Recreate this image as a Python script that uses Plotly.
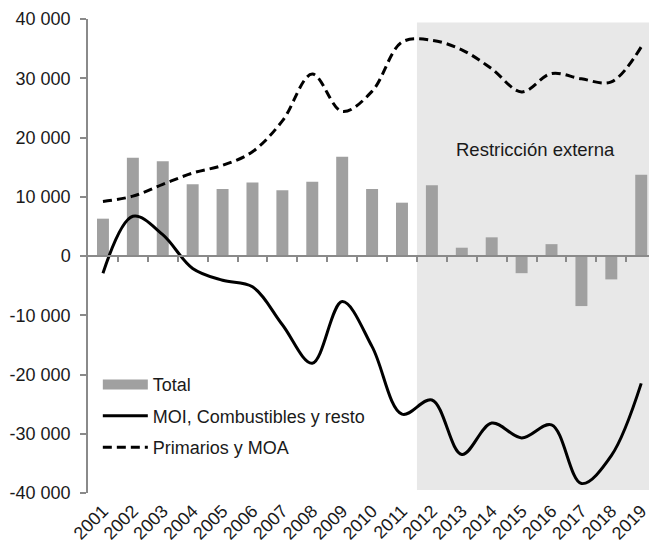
import plotly.graph_objects as go

years = [str(y) for y in range(2001, 2020)]
total = [6300, 16600, 16000, 12100, 11300, 12400, 11100, 12550, 16750, 11300,
         9000, 11950, 1400, 3150, -2900, 2000, -8450, -3950, 13700]
moi = [-2900, 6700, 3600, -2100, -4100, -5200, -11600, -18100, -7700, -15300,
       -26700, -24300, -33500, -28200, -30700, -28500, -38400, -33700, -21500]
primarios = [9200, 10100, 12100, 14000, 15300, 17600, 22800, 30700, 24400, 27800,
             36100, 36400, 34800, 31600, 27700, 30800, 29900, 29400, 35300]

ytickvals = [-40000, -30000, -20000, -10000, 0, 10000, 20000, 30000, 40000]
yticktext = ["-40 000", "-30 000", "-20 000", "-10 000", "0", "10 000", "20 000", "30 000", "40 000"]

FONT = "Arial, Liberation Sans, sans-serif"
TXT = "#1a1a1a"
BAR = "#a0a0a0"
AX = "#8a8a8a"

fig = go.Figure()
fig.add_trace(go.Bar(x=years, y=total, name="Total", marker=dict(color=BAR, line=dict(width=0)),
                     width=0.4, showlegend=False))
fig.add_trace(go.Scatter(x=[None], y=[None], mode="lines", name="Total", legendgroup="a",
                         line=dict(color=BAR, width=10), showlegend=True))
fig.add_trace(go.Scatter(x=years, y=moi, mode="lines", name="MOI, Combustibles y resto", legendgroup="b",
                         line=dict(color="#000000", width=3, shape="spline", smoothing=1)))
fig.add_trace(go.Scatter(x=years, y=primarios, mode="lines", name="Primarios y MOA", legendgroup="c",
                         line=dict(color="#000000", width=3, shape="spline", smoothing=1, dash="9px,5px")))
# invisible trace to hold the zero-line axis
fig.add_trace(go.Scatter(x=[None], y=[None], xaxis="x2", yaxis="y", showlegend=False, hoverinfo="skip"))

n = len(years)
fig.update_layout(
    width=649, height=543,
    margin=dict(l=88, r=0, t=19, b=50),
    paper_bgcolor="white", plot_bgcolor="white",
    font=dict(family=FONT, size=18, color=TXT),
    showlegend=True,
    legend=dict(x=0.0175, y=0.2675, xanchor="left", yanchor="top", bgcolor="rgba(0,0,0,0)",
                font=dict(size=18, color=TXT), itemwidth=45, traceorder="grouped",
                tracegroupgap=5),
    xaxis=dict(type="category", range=[-0.5, 18.26], showline=False, ticks="",
               tickangle=-45, tickfont=dict(size=18, color=TXT), showgrid=False, zeroline=False,
               automargin=False, ticklabelstandoff=3),
    xaxis2=dict(overlaying="x", anchor="free", position=0.5, side="bottom", type="linear",
                range=[-0.5, 18.26], showline=True, linecolor=AX, linewidth=1.5,
                ticks="outside", ticklen=5, tickcolor=AX, tickwidth=1.5,
                tickvals=[i + 0.5 for i in range(n - 1)], showticklabels=False,
                showgrid=False, zeroline=False, automargin=False),
    yaxis=dict(range=[-40000, 40000], tickvals=ytickvals, ticktext=yticktext,
               showline=True, linecolor=AX, linewidth=1.5, ticks="outside", ticklen=6,
               tickcolor=AX, tickwidth=1.5, showgrid=False, zeroline=False,
               tickfont=dict(size=18, color=TXT), ticklabelstandoff=6, automargin=False),
    shapes=[dict(type="rect", xref="x", yref="y", x0=10.5, x1=18.6, y0=-39500, y1=39400,
                 fillcolor="#e8e8e8", line=dict(width=0), layer="below")],
    annotations=[dict(text="Restricción externa", xref="paper", yref="y", x=0.797, y=17900,
                      xanchor="center", showarrow=False, font=dict(size=18.5, color=TXT))],
)

fig.write_html("out.html", config={"displayModeBar": False},
               post_script="document.body.style.margin='0';document.body.style.overflow='hidden';")
